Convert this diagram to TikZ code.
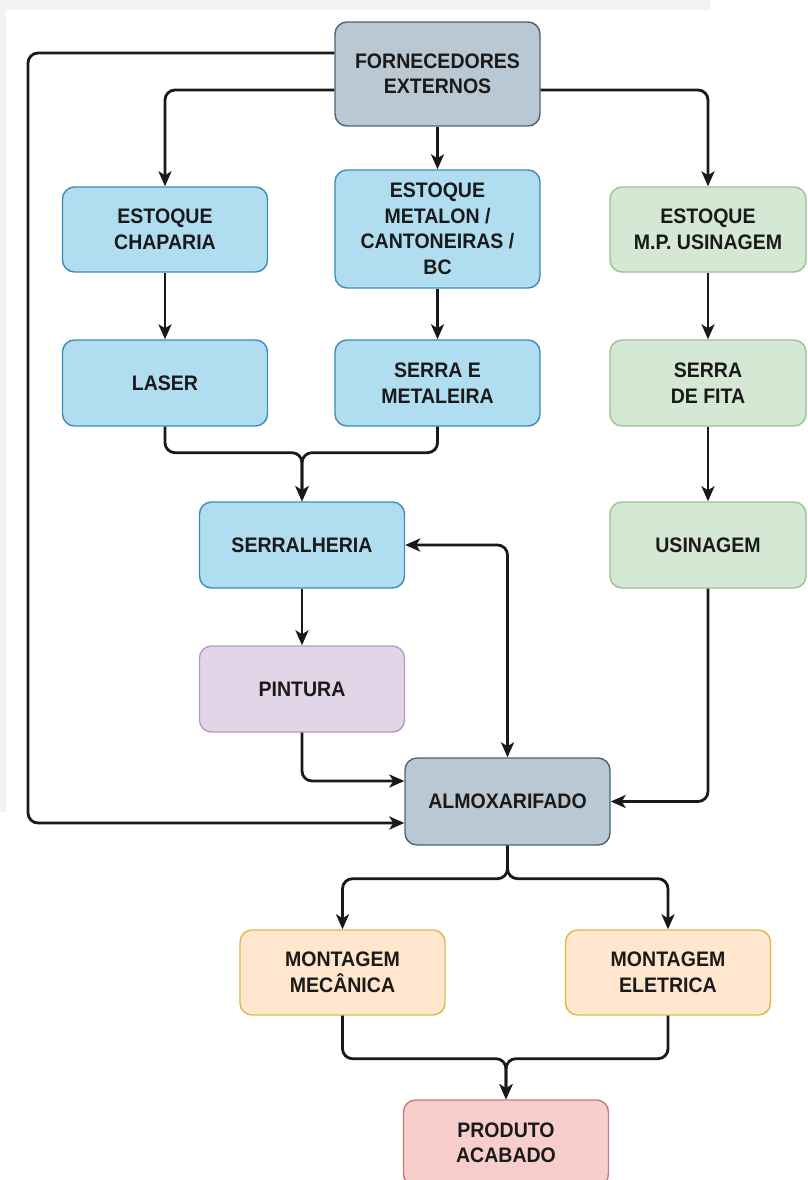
\documentclass[tikz,border=0pt]{standalone}
\usepackage{fontspec}
\setmainfont{Liberation Sans}[FakeStretch=0.93]
\usetikzlibrary{arrows.meta,calc}
\definecolor{bluefill}{HTML}{B1DDF0}
\definecolor{bluedraw}{HTML}{3D8DB5}
\definecolor{greenfill}{HTML}{D5E8D4}
\definecolor{greendraw}{HTML}{9CC194}
\definecolor{purplefill}{HTML}{E1D5E7}
\definecolor{purpledraw}{HTML}{B59BC4}
\definecolor{grayfill}{HTML}{BAC8D3}
\definecolor{graydraw}{HTML}{4D6475}
\definecolor{orangefill}{HTML}{FFE6CC}
\definecolor{orangedraw}{HTML}{E0B84A}
\definecolor{redfill}{HTML}{F8CECC}
\definecolor{reddraw}{HTML}{C77A78}
\definecolor{txt}{HTML}{1A1A1A}
\definecolor{bandgray}{HTML}{F2F2F2}
\tikzset{
  box/.style={draw, line width=1.4pt, rounded corners=12pt, minimum width=205pt, minimum height=86pt,
    align=center, inner sep=0pt, text=txt, font=\bfseries\fontsize{21}{25.5}\selectfont},
  bluebox/.style={box, fill=bluefill, draw=bluedraw},
  greenbox/.style={box, fill=greenfill, draw=greendraw, minimum width=196pt},
  purplebox/.style={box, fill=purplefill, draw=purpledraw},
  graybox/.style={box, fill=grayfill, draw=graydraw},
  orangebox/.style={box, fill=orangefill, draw=orangedraw},
  redbox/.style={box, fill=redfill, draw=reddraw},
  conn/.style={line width=2.8pt, draw=black!90, rounded corners=10pt},
  arr/.style={conn, -{Stealth[length=15pt,width=13pt,inset=4pt]}},
  arrtwo/.style={conn, {Stealth[length=15pt,width=13pt,inset=4pt]}-{Stealth[length=15pt,width=13pt,inset=4pt]}}
}
\begin{document}
\begin{tikzpicture}[x=1pt,y=-1pt]
\clip (0,0) rectangle (807,1180);
\fill[white] (0,0) rectangle (807,1180);
\fill[bandgray] (0,0) rectangle (710,10);
\fill[bandgray] (0,0) rectangle (6,812);

\node[graybox, minimum height=104pt] (forn) at (437.5,74) {FORNECEDORES\\EXTERNOS};
\node[bluebox, minimum height=85pt] (chap) at (165,229.5) {ESTOQUE\\CHAPARIA};
\node[bluebox, minimum height=118pt] (metal) at (437.5,229) {ESTOQUE\\METALON /\\CANTONEIRAS /\\BC};
\node[greenbox, minimum height=85pt] (mpus) at (708,229.5) {ESTOQUE\\M.P. USINAGEM};
\node[bluebox] (laser) at (165,383) {LASER};
\node[bluebox] (serra) at (437.5,383) {SERRA E\\METALEIRA};
\node[greenbox] (fita) at (708,383) {SERRA\\DE FITA};
\node[bluebox] (serral) at (302,545) {SERRALHERIA};
\node[greenbox] (usin) at (708,545) {USINAGEM};
\node[purplebox] (pint) at (302,689) {PINTURA};
\node[graybox, minimum height=87pt] (almox) at (507.5,801.5) {ALMOXARIFADO};
\node[orangebox, minimum height=85pt] (mmec) at (342.5,972.5) {MONTAGEM\\MECÂNICA};
\node[orangebox, minimum height=85pt] (mele) at (668,972.5) {MONTAGEM\\ELETRICA};
\node[redbox] (prod) at (506,1143) {PRODUTO\\ACABADO};

\coordinate (L1) at (28,53);
\coordinate (L2) at (28,823);
\draw[arr] ($(forn.west)+(0,-21)$) -- (L1) -- (L2) -- ($(almox.west)+(0,21.5)$);
\draw[arr] ($(forn.west)+(0,16)$) -| (chap.north);
\draw[arr] (forn.south) -- (metal.north);
\draw[arr] ($(forn.east)+(0,16)$) -| (mpus.north);

\draw[arr] (chap.south) -- (laser.north);
\draw[arr] (metal.south) -- (serra.north);
\draw[arr] (mpus.south) -- (fita.north);
\draw[arr] (fita.south) -- (usin.north);

\draw[arr] (laser.south) -- ++(0,26) -| (serral.north);
\draw[arr] (serra.south) -- ++(0,26) -| (serral.north);

\draw[arr] (serral.south) -- (pint.north);
\draw[arrtwo] (serral.east) -| (almox.north);
\draw[arr] (pint.south) |- ($(almox.west)+(0,-20.5)$);
\draw[arr] (usin.south) |- (almox.east);

\draw[arr] (almox.south) -- ++(0,33) -| (mmec.north);
\draw[arr] (almox.south) -- ++(0,33) -| (mele.north);

\draw[arr] (mmec.south) -- ++(0,43) -| (prod.north);
\draw[arr] (mele.south) -- ++(0,43) -| (prod.north);
\end{tikzpicture}
\end{document}
